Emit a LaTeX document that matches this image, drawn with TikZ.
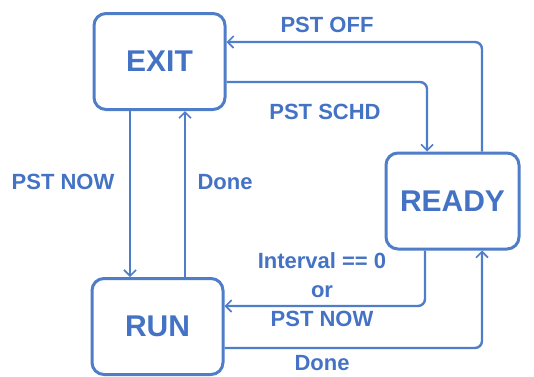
\documentclass[tikz,border=0pt]{standalone}
\usepackage{fontspec}
\setmainfont{Liberation Sans}
\usepackage{xcolor}
\usepackage{tikz}
\usetikzlibrary{arrows.meta, positioning, calc}
\definecolor{myblue}{RGB}{79, 125, 200}
\definecolor{mytext}{RGB}{68, 114, 196}
\tikzstyle{state} = [draw=myblue, line width=3pt, rounded corners=12pt, minimum width=131pt, minimum height=96pt, text=mytext, font=\fontsize{30}{36}\selectfont\bfseries]
\tikzstyle{arrow} = [draw=myblue, line width=2.4pt, rounded corners=7pt, -{Straight Barb[length=6pt,width=12pt,line width=1.6pt]}]

\begin{document}
\begin{tikzpicture}[x=1pt, y=-1pt, lbl/.style={text=mytext, font=\fontsize{22}{29}\selectfont\bfseries, inner sep=0pt}]
    \useasboundingbox (0,0) rectangle (534,376);
    \node[state] (exit) at (159.5,61.5) {EXIT};
    \node[state] (run) at (157.5,326.5) {RUN};
    \node[state, minimum width=133pt] (ready) at (452.5,201) {READY};

    \draw[arrow] ([xshift=29.5pt]ready.north) |- ([yshift=19.5pt]exit.east);
    \draw[arrow] ([yshift=-20.5pt]exit.east) -| ([xshift=-25.5pt]ready.north);
    \draw[arrow, rounded corners=0pt] ([xshift=-29.5pt]exit.south) -- ([xshift=-29.5pt]exit.south |- run.north);
    \draw[arrow, rounded corners=0pt] ([xshift=27.5pt]run.north) -- ([xshift=27.5pt]run.north |- exit.south);
    \draw[arrow] ([xshift=-27.5pt]ready.south) |- ([yshift=20.5pt]run.east);
    \draw[arrow] ([yshift=-21.5pt]run.east) -| ([xshift=29.5pt]ready.south);

    \node[lbl] (offlbl) at (327,25) {PST OFF};
    \node[lbl] (schdlbl) at (325,112) {PST SCHD};
    \node[lbl] (nowlbl) at (63,182) {PST NOW};
    \node[lbl] (donelbl) at (225,182) {Done};
    \node[lbl, align=center] (intlbl) at (322,290) {Interval == 0\\or\\PST NOW};
    \node[lbl] (done2lbl) at (322,363) {Done};
\end{tikzpicture}
\end{document}
